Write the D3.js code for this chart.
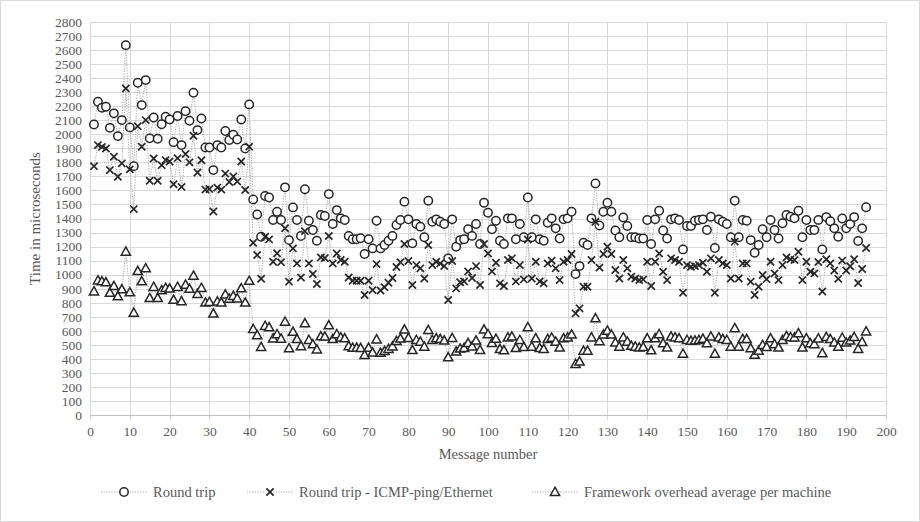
<!DOCTYPE html>
<html>
<head>
<meta charset="UTF-8">
<title>Time in microseconds per message</title>
<style>
html, body {
    margin: 0;
    padding: 0;
    background-color: #fff;
}
svg text {
    font-family: "Liberation Serif", "DejaVu Serif", serif;
    fill: #595959;
}
.grid line {
    stroke: #d9d9d9;
    shape-rendering: crispEdges;
}
.link {
    fill: none;
    stroke: #a6a6a6;
    stroke-width: 1;
    stroke-dasharray: 1.2,1.4;
}
.mark {
    fill: #fff;
    stroke: #262626;
    stroke-width: 1.5;
}
</style>
</head>
<body>
<div class="chart"></div>
<script src="https://cdn.jsdelivr.net/npm/d3@7"></script>
<script>
// round trip time per message, microseconds
let roundTrip = [
    2070, 2232, 2189, 2196, 2046, 2149, 1987, 2101, 2635, 2049,
    1773, 2367, 2208, 2386, 1971, 2120, 1968, 2072, 2125, 2106,
    1944, 2130, 1923, 2165, 2096, 2296, 2030, 2113, 1906, 1906,
    1745, 1923, 1906, 2023, 1959, 1997, 1963, 2106, 1899, 2213,
    1536, 1429, 1270, 1560, 1550, 1389, 1448, 1389, 1622, 1246,
    1479, 1389, 1275, 1608, 1384, 1318, 1242, 1425, 1418, 1574,
    1361, 1460, 1401, 1389, 1276, 1252, 1252, 1259, 1147, 1252,
    1187, 1384, 1187, 1211, 1242, 1276, 1354, 1389, 1520, 1394,
    1223, 1361, 1342, 1266, 1527, 1377, 1394, 1377, 1361, 1116,
    1394, 1199, 1246, 1252, 1323, 1276, 1361, 1218, 1512, 1441,
    1323, 1384, 1242, 1218, 1401, 1401, 1252, 1361, 1266, 1550,
    1266, 1394, 1252, 1242, 1370, 1401, 1330, 1258, 1394, 1401,
    1448, 1004, 1061, 1227, 1211, 1401, 1650, 1350, 1448, 1512,
    1448, 1314, 1266, 1408, 1347, 1266, 1266, 1258, 1258, 1389,
    1218, 1394, 1455, 1314, 1258, 1394, 1401, 1389, 1180, 1347,
    1347, 1384, 1389, 1394, 1318, 1412, 1190, 1394, 1377, 1361,
    1266, 1527, 1266, 1389, 1384, 1246, 1156, 1211, 1323, 1266,
    1389, 1318, 1258, 1366, 1425, 1412, 1401, 1455, 1266, 1389,
    1318, 1318, 1390, 1180, 1410, 1380, 1330, 1270, 1400, 1330,
    1360, 1410, 1240, 1330, 1480
];

// round trip minus ICMP ping over ethernet
let minusPing = [
    1773, 1923, 1910, 1899, 1745, 1840, 1697, 1793, 2327, 1750,
    1467, 2058, 1911, 2101, 1669, 1828, 1669, 1780, 1816, 1806,
    1644, 1830, 1625, 1860, 1800, 1990, 1728, 1815, 1606, 1610,
    1450, 1620, 1606, 1720, 1660, 1700, 1663, 1806, 1603, 1912,
    1227, 1140, 971, 1270, 1251, 1092, 1152, 1089, 1330, 950,
    1187, 1080, 980, 1310, 1080, 1005, 933, 1123, 1118, 1275,
    1080, 1151, 1104, 1092, 980, 957, 957, 957, 855, 957,
    890, 1075, 887, 911, 942, 976, 1054, 1089, 1218, 1097,
    926, 1068, 1045, 973, 1211, 1068, 1092, 1080, 1061, 819,
    1097, 902, 946, 952, 1023, 976, 1061, 926, 1218, 1151,
    1023, 1085, 938, 919, 1104, 1116, 952, 1068, 966, 1250,
    973, 1092, 952, 938, 1080, 1100, 1045, 961, 1092, 1104,
    1147, 724, 760, 914, 914, 1104, 1377, 1050, 1147, 1199,
    1147, 1033, 973, 1104, 1045, 985, 973, 961, 966, 1092,
    919, 1092, 1151, 1021, 961, 1116, 1104, 1092, 871, 1068,
    1056, 1061, 1068, 1085, 1021, 1116, 871, 1104, 1080, 1068,
    973, 1235, 973, 1080, 1080, 950, 855, 914, 997, 968,
    1092, 1009, 961, 1068, 1123, 1109, 1104, 1163, 961, 1092,
    1021, 1009, 1090, 880, 1110, 1080, 1030, 970, 1100, 1030,
    1060, 1110, 940, 1040, 1190
];

// framework overhead, average per machine
let overhead = [
    880, 958, 952, 945, 870, 918, 845, 895, 1163, 873,
    728, 1025, 952, 1045, 832, 912, 832, 888, 905, 900,
    820, 912, 810, 928, 898, 992, 862, 905, 800, 805,
    722, 808, 800, 858, 828, 848, 830, 902, 800, 955,
    612, 568, 484, 634, 624, 545, 575, 543, 664, 474,
    592, 540, 490, 653, 534, 503, 466, 560, 558, 638,
    540, 575, 552, 546, 490, 478, 478, 476, 427, 478,
    444, 538, 442, 455, 470, 488, 526, 544, 608, 548,
    462, 534, 522, 486, 605, 534, 546, 540, 530, 410,
    548, 451, 473, 476, 512, 488, 530, 463, 608, 575,
    512, 542, 469, 460, 552, 558, 476, 534, 483, 625,
    486, 546, 476, 469, 540, 550, 522, 480, 546, 552,
    573, 362, 380, 457, 457, 552, 688, 525, 573, 600,
    573, 516, 486, 552, 522, 492, 486, 480, 483, 546,
    460, 546, 575, 510, 480, 558, 552, 546, 436, 534,
    528, 530, 534, 542, 510, 558, 436, 552, 540, 534,
    486, 618, 486, 540, 540, 475, 428, 457, 498, 484,
    546, 504, 480, 534, 562, 554, 552, 582, 480, 546,
    510, 504, 545, 440, 555, 540, 515, 485, 550, 515,
    530, 555, 470, 520, 595
];

let yTicks = d3.range(0, 2801, 100);
let xTicks = d3.range(0, 201, 10);

let seriesNames = ['Round trip', 'Round trip - ICMP-ping/Ethernet', 'Framework overhead average per machine'];

let width = 920, height = 522;

let svg = d3.select('.chart').append('svg')
    .attr('width', width)
    .attr('height', height);

svg.append('rect')
    .attr('x', 0.5).attr('y', 0.5)
    .attr('width', width - 1).attr('height', height - 1)
    .attr('fill', '#fff')
    .attr('stroke', '#d9d9d9');

let xScale = d3.scaleLinear().domain([0, 200]).range([90, 886]);
let yScale = d3.scaleLinear().domain([0, 2800]).range([415, 22]);

// gridlines
let grid = svg.append('g').attr('class', 'grid');
grid.selectAll('.h').data(yTicks).enter().append('line')
    .attr('x1', xScale(0)).attr('x2', xScale(200))
    .attr('y1', d => Math.round(yScale(d)) + 0.5)
    .attr('y2', d => Math.round(yScale(d)) + 0.5);
grid.selectAll('.v').data(xTicks).enter().append('line')
    .attr('x1', d => Math.round(xScale(d)) + 0.5)
    .attr('x2', d => Math.round(xScale(d)) + 0.5)
    .attr('y1', yScale(2800)).attr('y2', yScale(0) + 5);

// axes (labels only, lines come from the grid)
let xAxis = svg.append('g')
    .attr('transform', 'translate(0,' + (yScale(0) + 5) + ')')
    .call(d3.axisBottom(xScale).tickValues(xTicks).tickSize(0).tickPadding(6).tickFormat(d3.format('d')));
let yAxis = svg.append('g')
    .attr('transform', 'translate(' + (xScale(0) - 7) + ',0)')
    .call(d3.axisLeft(yScale).tickValues(yTicks).tickSize(0).tickPadding(1).tickFormat(d3.format('d')));
[xAxis, yAxis].forEach(a => {
    a.attr('font-family', '"Liberation Serif", serif').attr('font-size', null);
    a.select('.domain').remove();
    a.selectAll('text').style('font-size', '13.5px').attr('fill', '#595959');
});
svg.append('line')
    .attr('x1', xScale(0)).attr('x2', xScale(200))
    .attr('y1', Math.round(yScale(0)) + 0.5).attr('y2', Math.round(yScale(0)) + 0.5)
    .attr('stroke', '#bfbfbf');

svg.append('text')
    .attr('transform', 'translate(40,' + yScale(1400) + ') rotate(-90)')
    .attr('text-anchor', 'middle')
    .style('font-size', '15px')
    .text('Time in microseconds');

svg.append('text')
    .attr('x', xScale(100)).attr('y', 459)
    .attr('text-anchor', 'middle')
    .style('font-size', '14.5px')
    .text('Message number');

// marker shapes
let symbols = [
    g => g.append('circle').attr('r', 4.2),
    g => g.append('path').attr('d', 'M-3.6,-3.6L3.6,3.6M-3.6,3.6L3.6,-3.6').style('stroke-width', 1.7),
    g => g.append('path').attr('d', 'M0,-4.8L4.6,3.4L-4.6,3.4Z')
];

let allSeries = [roundTrip, minusPing, overhead];

let line = d3.line()
    .x((d, i) => xScale(i + 1))
    .y(d => yScale(d));

allSeries.forEach((values, s) => {
    let g = svg.append('g');
    g.append('path')
        .attr('class', 'link')
        .attr('d', line(values));
    g.selectAll('.pt').data(values).enter().append('g')
        .attr('class', 'mark')
        .attr('transform', (d, i) => 'translate(' + xScale(i + 1) + ',' + yScale(d) + ')')
        .each(function () { symbols[s](d3.select(this)); });
});

// legend
let legendX = [101, 247, 532];
let legend = svg.append('g').attr('transform', 'translate(0,492)');
seriesNames.forEach((name, s) => {
    let lg = legend.append('g').attr('transform', 'translate(' + legendX[s] + ',0)');
    lg.append('line')
        .attr('class', 'link')
        .attr('x1', 0).attr('x2', 46).attr('y1', 0).attr('y2', 0);
    let m = lg.append('g').attr('class', 'mark').attr('transform', 'translate(23,0)');
    symbols[s](m);
    lg.append('text')
        .attr('x', 52).attr('y', 5)
        .style('font-size', '14.5px')
        .text(name);
});
</script>
</body>
</html>
